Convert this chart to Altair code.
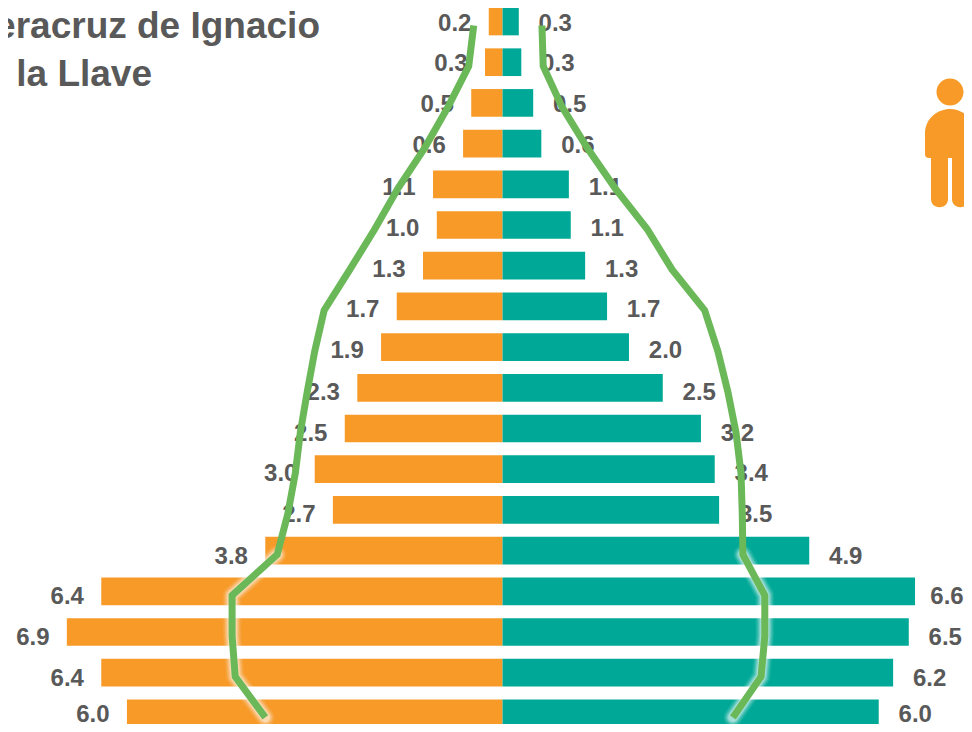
import altair as alt
import pandas as pd

AGES = ["85+", "80-84", "75-79", "70-74", "65-69", "60-64", "55-59", "50-54", "45-49",
        "40-44", "35-39", "30-34", "25-29", "20-24", "15-19", "10-14", "5-9", "0-4"]
# Bar lengths (percent of population)
MEN = [0.22, 0.28, 0.50, 0.63, 1.11, 1.05, 1.27, 1.69, 1.94, 2.32, 2.52, 3.00, 2.71, 3.79, 6.41, 6.96, 6.41, 6.00]
WOMEN = [0.26, 0.30, 0.49, 0.62, 1.06, 1.09, 1.32, 1.67, 2.02, 2.56, 3.17, 3.39, 3.46, 4.90, 6.59, 6.49, 6.24, 6.01]
MEN_LABELS = ["0.2", "0.3", "0.5", "0.6", "1.1", "1.0", "1.3", "1.7", "1.9", "2.3", "2.5", "3.0", "2.7", "3.8", "6.4", "6.9", "6.4", "6.0"]
WOMEN_LABELS = ["0.3", "0.3", "0.5", "0.6", "1.1", "1.1", "1.3", "1.7", "2.0", "2.5", "3.2", "3.4", "3.5", "4.9", "6.6", "6.5", "6.2", "6.0"]
# Green outline (second population structure)
LINE_MEN = [0.46, 0.54, 0.87, 1.24, 1.67, 2.04, 2.44, 2.85, 3.00, 3.12, 3.23, 3.31, 3.43, 3.60, 4.32, 4.32, 4.27, 3.79]
LINE_WOMEN = [0.63, 0.65, 0.95, 1.35, 1.80, 2.31, 2.71, 3.23, 3.44, 3.60, 3.73, 3.81, 3.83, 3.84, 4.19, 4.19, 4.13, 3.68]
TITLE_LINES = ["Veracruz de Ignacio", "de la Llave"]

ORANGE = "#F79A28"
TEAL = "#00A997"
GREEN = "#6BB858"
GREY = "#595959"
FONT = "Liberation Sans"

df = pd.DataFrame({
    "age": AGES,
    "men": [-v for v in MEN],
    "women": WOMEN,
    "zero": [0] * len(AGES),
    "men_label": MEN_LABELS,
    "women_label": WOMEN_LABELS,
    "line_men": [-v for v in LINE_MEN],
    "line_women": LINE_WOMEN,
    "row": list(range(len(AGES))),
})

x_scale = alt.Scale(domain=[-7.9, 7.5], range=[0, 964], nice=False, zero=False)
y_scale = alt.Scale(domain=AGES, range=[-6.85, 725.75], paddingInner=0.32, paddingOuter=0.16)
X = lambda f: alt.X(f + ":Q", scale=x_scale, axis=None)
Y = alt.Y("age:N", scale=y_scale, sort=AGES, axis=None)

base = alt.Chart(df)
bar_l = base.mark_bar(color=ORANGE, cornerRadius=0).encode(x=X("men"), x2="zero:Q", y=Y)
bar_r = base.mark_bar(color=TEAL, cornerRadius=0).encode(x=X("zero"), x2="women:Q", y=Y)


def text_layer(value, label, dx, dy, cond):
    return base.transform_filter(cond).mark_text(
        font=FONT, fontSize=24, fontWeight="bold", color=GREY,
        align="center", baseline="middle", dx=dx, dy=dy
    ).encode(x=X(value), y=Y, text=label + ":N")


text_layers = []
for lo, hi, dy in [(0, 3, 2), (4, 8, 4), (9, 12, 5), (13, 16, 6), (17, 17, 2)]:
    cond = f"datum.row >= {lo} && datum.row <= {hi}"
    text_layers.append(text_layer("men", "men_label", -34, dy, cond))
    text_layers.append(text_layer("women", "women_label", 36.5, dy, cond + " && datum.row != 14"))
    if lo <= 14 <= hi:
        text_layers.append(text_layer("women", "women_label", 32, dy, "datum.row == 14"))


def line_layer(col, width, color, opacity):
    return base.transform_filter("datum.row >= 13").mark_line(
        color=color, strokeWidth=width, opacity=opacity, yOffset=4,
        strokeCap="round", strokeJoin="round", clip=False
    ).encode(x=X(col), y=Y, order="row:Q")


glows = []
for col in ["line_men", "line_women"]:
    for w, op in [(19, 0.06), (17, 0.08), (15, 0.12), (13, 0.16), (11, 0.22), (9, 0.3)]:
        glows.append(line_layer(col, w, "#FFFFFF", op))


def green_line(col):
    return base.mark_line(color=GREEN, strokeWidth=7, yOffset=4, strokeCap="butt",
                          strokeJoin="miter", clip=False).encode(x=X(col), y=Y, order="row:Q")


lines = [green_line("line_men"), green_line("line_women")]

title1 = alt.Chart(pd.DataFrame({"t": [TITLE_LINES[0]]})).mark_text(
    font=FONT, fontSize=37, fontWeight="bold", color=GREY, align="right", baseline="middle"
).encode(x=alt.value(312), y=alt.value(19), text="t:N")
title2 = alt.Chart(pd.DataFrame({"t": [TITLE_LINES[1]]})).mark_text(
    font=FONT, fontSize=37, fontWeight="bold", color=GREY, align="right", baseline="middle"
).encode(x=alt.value(144), y=alt.value(67), text="t:N")


def p(s):
    out = []
    for tok in s.split():
        try:
            out.append(f"{float(tok) / 64:.4f}")
        except ValueError:
            out.append(tok)
    return " ".join(out)


ICON = (
    p("M 13.5 -52 C 13.5 -44.5 7.5 -38.5 0 -38.5 C -7.5 -38.5 -13.5 -44.5 -13.5 -52 "
      "C -13.5 -59.5 -7.5 -65.5 0 -65.5 C 7.5 -65.5 13.5 -59.5 13.5 -52 Z")
    + " " + p("M -25 10 L -25 -10 C -25 -26 -12 -35 0 -35 C 12 -35 25 -26 25 -10 L 25 10 Q 25 14 21 14 L -21 14 Q -25 14 -25 10 Z")
    + " " + p("M -19 14 L -2 14 L -2 55 C -2 66 -19 66 -19 55 Z")
    + " " + p("M 2 14 L 19 14 L 19 55 C 19 66 2 66 2 55 Z")
)
icon = alt.Chart(pd.DataFrame({"k": ["person"]})).mark_point(
    shape=ICON, filled=True, color=ORANGE, opacity=1, strokeWidth=0
).encode(x=alt.value(942), y=alt.value(136), size=alt.value(16384))

chart = alt.layer(bar_l, bar_r, *text_layers, *glows, *lines, title1, title2, icon).properties(
    width=956, height=716, padding=0, autosize=alt.AutoSizeParams(type="none")
).configure_view(stroke=None).resolve_scale(x="shared", y="shared")

chart.save("out.html", embed_options={"renderer": "svg", "actions": False})
